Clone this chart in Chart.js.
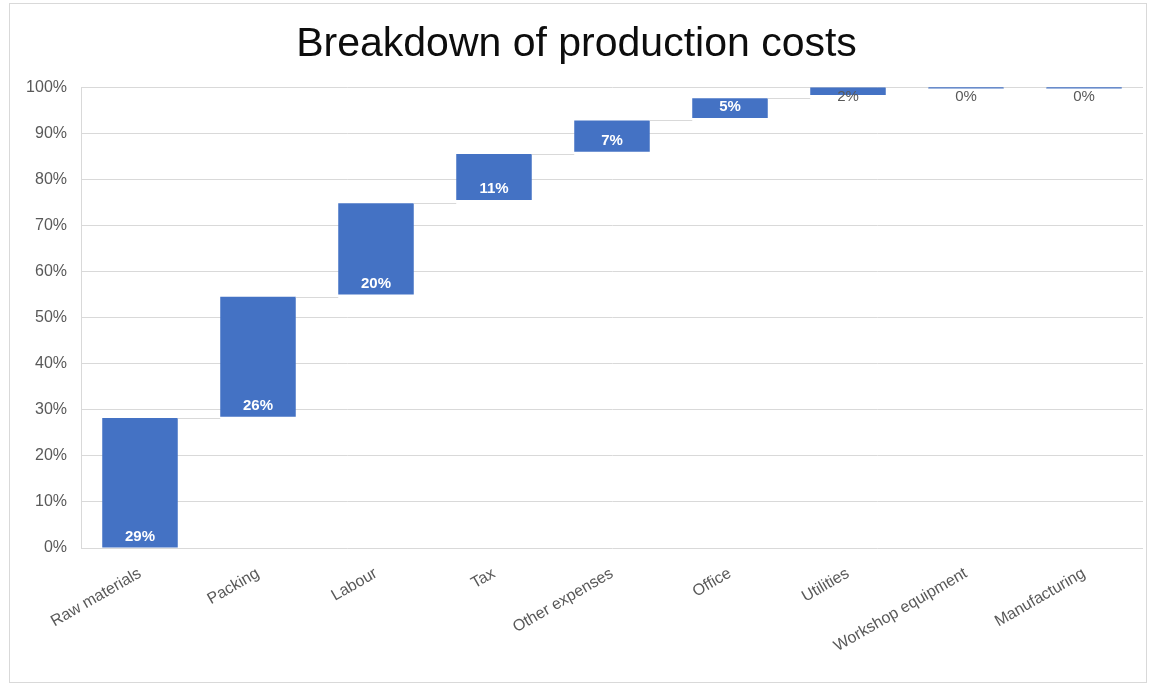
<!DOCTYPE html>
<html>
<head>
<meta charset="utf-8">
<script src="https://cdn.jsdelivr.net/npm/chart.js@4"></script>
<style>
    html, body { margin: 0; padding: 0; background: #fff; }
    #wrap { position: relative; width: 1150px; height: 686px; }
    #frame { position: absolute; left: 9px; top: 3px; width: 1138px; height: 680px; border: 1px solid #d9d9d9; box-sizing: border-box; pointer-events: none; }
</style>
</head>
<body>
<div id="wrap">
    <canvas id="costChart"></canvas>
    <div id="frame"></div>
</div>
<script>
const categories = ['Raw materials', 'Packing', 'Labour', 'Tax', 'Other expenses', 'Office', 'Utilities', 'Workshop equipment', 'Manufacturing'];
// waterfall bars: where each step starts and ends (% of total)
const barStart   = [0,    28.5, 55.0, 75.5, 86.0, 93.3, 98.3, 99.7, 99.7];
const barEnd     = [28.2, 54.5, 74.8, 85.5, 92.8, 97.6, 100,  100,  100];
const valueLabels = ['29%', '26%', '20%', '11%', '7%', '5%', '2%', '0%', '0%'];
const yTicks     = [0, 10, 20, 30, 40, 50, 60, 70, 80, 90, 100];

const barColor  = '#4472C4';
const gridColor = '#d9d9d9';
const textColor = '#595959';
const fontFam   = '"Liberation Sans", "DejaVu Sans", sans-serif';

// thin connector lines between steps + labels at the base of each bar
const waterfallExtras = {
    id: 'waterfallExtras',
    afterDatasetsDraw(chart) {
        const ctx  = chart.ctx;
        const meta = chart.getDatasetMeta(0);
        const y    = chart.scales.y;

        ctx.save();
        ctx.strokeStyle = gridColor;
        ctx.lineWidth = 1;
        for (let i = 0; i < meta.data.length - 1; i++) {
            const a = meta.data[i], b = meta.data[i + 1];
            const py = Math.round(y.getPixelForValue(barEnd[i])) + 0.5;
            ctx.beginPath();
            ctx.moveTo(a.x + a.width / 2, py);
            ctx.lineTo(b.x - b.width / 2, py);
            ctx.stroke();
        }

        ctx.textAlign = 'center';
        ctx.textBaseline = 'middle';
        meta.data.forEach((bar, i) => {
            const top    = y.getPixelForValue(barEnd[i]);
            const bottom = y.getPixelForValue(barStart[i]);
            const tall   = bottom - top > 16;
            ctx.fillStyle = tall ? '#ffffff' : textColor;
            ctx.font = (tall ? 'bold ' : '') + '15px ' + fontFam;
            const ly = tall ? bottom - 11 : top + 10;
            ctx.fillText(valueLabels[i], bar.x, ly);
        });
        ctx.restore();
    }
};

new Chart(document.getElementById('costChart').getContext('2d'), {
    type: 'bar',
    data: {
        labels: categories,
        datasets: [{
            data: categories.map((_, i) => [barStart[i], barEnd[i]]),
            backgroundColor: barColor,
            borderWidth: 0,
            categoryPercentage: 1,
            barPercentage: 0.64,
            minBarLength: 2
        }]
    },
    options: {
        responsive: true,
        maintainAspectRatio: false,
        animation: false,
        layout: { padding: { left: 10, right: 7, top: 0, bottom: 0 } },
        plugins: {
            legend: { display: false },
            tooltip: { enabled: false },
            title: {
                display: true,
                text: 'Breakdown of production costs',
                color: '#0d0d0d',
                font: { size: 41, family: fontFam, weight: 'normal', lineHeight: 1.2 },
                padding: { top: 20, bottom: 18 }
            }
        },
        scales: {
            x: {
                grid: { display: false },
                border: { display: false },
                ticks: {
                    color: textColor,
                    font: { size: 16, family: fontFam },
                    minRotation: 30,
                    maxRotation: 30,
                    padding: 8,
                    autoSkip: false
                },
                afterFit(scale) { scale.height = 686 - 548; }
            },
            y: {
                min: 0,
                max: 100,
                afterBuildTicks(scale) { scale.ticks = yTicks.map(v => ({ value: v })); },
                grid: { color: gridColor, drawTicks: false },
                border: { display: true, color: gridColor },
                ticks: {
                    color: textColor,
                    font: { size: 16, family: fontFam },
                    padding: 14,
                    callback: v => v + '%'
                },
                afterFit(scale) { scale.width = 81 - 10; }
            }
        }
    },
    plugins: [waterfallExtras]
});
</script>
</body>
</html>
